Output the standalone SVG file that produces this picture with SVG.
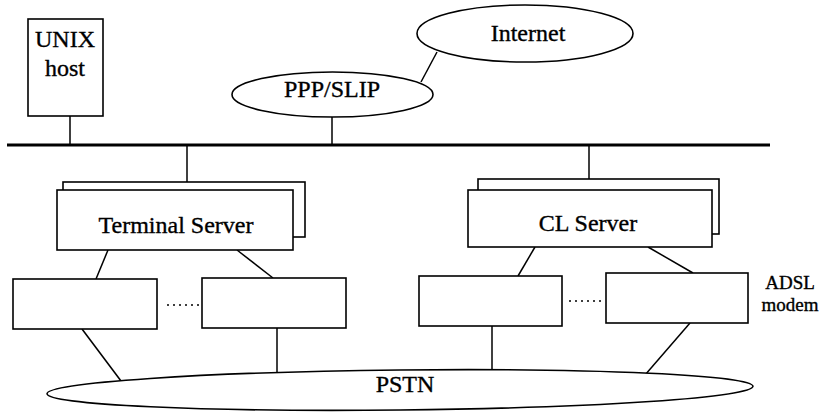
<svg xmlns="http://www.w3.org/2000/svg" width="829" height="412" viewBox="0 0 829 412">
  <style>
    .box { fill: #fff; stroke: #000; stroke-width: 1.6; }
    .cloud { fill: #fff; stroke: #000; stroke-width: 1.6; }
    .link { stroke: #000; stroke-width: 1.5; fill: none; }
    .bus { stroke: #000; stroke-width: 3; }
    .dots { stroke: #000; stroke-width: 1.5; stroke-dasharray: 2 4; }
    text { font-family: "Liberation Serif", "Times New Roman", serif; fill: #000; stroke: #000; stroke-width: 0.35; text-anchor: middle; }
    .lbl { font-size: 24px; }
    .small { font-size: 19px; }
  </style>
  <rect width="829" height="412" fill="#fff"/>

  <!-- connectors -->
  <g id="connectors">
    <line class="bus" x1="7" y1="145" x2="770" y2="145"/>
    <line class="link" x1="70" y1="116" x2="70" y2="145"/>
    <line class="link" x1="332" y1="117" x2="332" y2="145"/>
    <line class="link" x1="437" y1="52" x2="421" y2="82"/>
    <line class="link" x1="187" y1="145" x2="187" y2="182"/>
    <line class="link" x1="589" y1="145" x2="589" y2="179"/>
    <line class="link" x1="108" y1="250" x2="96" y2="279"/>
    <line class="link" x1="237" y1="250" x2="273" y2="278"/>
    <line class="link" x1="535" y1="247" x2="518" y2="276"/>
    <line class="link" x1="648" y1="247" x2="693" y2="273"/>
    <line class="link" x1="82" y1="329" x2="121" y2="381"/>
    <line class="link" x1="277" y1="328" x2="277" y2="376"/>
    <line class="link" x1="492" y1="326" x2="492" y2="371"/>
    <line class="link" x1="690" y1="323" x2="645" y2="375"/>
    <line class="dots" x1="167" y1="305" x2="199" y2="305"/>
    <line class="dots" x1="569" y1="301" x2="603" y2="301"/>
  </g>

  <g id="unix-host">
    <rect class="box" x="28" y="19" width="75" height="97"/>
    <text class="lbl" x="65" y="47">UNIX</text>
    <text class="lbl" x="65" y="76">host</text>
  </g>

  <g id="internet">
    <ellipse class="cloud" cx="525" cy="33.5" rx="108" ry="28.5"/>
    <text class="lbl" x="528" y="41">Internet</text>
  </g>

  <g id="ppp-slip">
    <ellipse class="cloud" cx="332.5" cy="94.5" rx="100.5" ry="22.5"/>
    <text class="lbl" x="332" y="97">PPP/SLIP</text>
  </g>

  <g id="terminal-server">
    <rect class="box" x="63" y="182" width="242" height="55"/>
    <rect class="box" x="57" y="190" width="236" height="60"/>
    <text class="lbl" x="176" y="233">Terminal Server</text>
  </g>

  <g id="cl-server">
    <rect class="box" x="478" y="179" width="241" height="55"/>
    <rect class="box" x="468" y="190" width="244" height="57"/>
    <text class="lbl" x="588" y="231">CL Server</text>
  </g>

  <g id="modem-1">
    <rect class="box" x="13" y="279" width="144" height="50"/>
  </g>
  <g id="modem-2">
    <rect class="box" x="202" y="278" width="144" height="50"/>
  </g>
  <g id="modem-3">
    <rect class="box" x="419" y="276" width="143" height="50"/>
  </g>
  <g id="modem-4">
    <rect class="box" x="606" y="273" width="142" height="50"/>
  </g>

  <g id="adsl-label">
    <text class="small" x="790" y="289">ADSL</text>
    <text class="small" x="790" y="311">modem</text>
  </g>

  <g id="pstn">
    <ellipse class="cloud" cx="400" cy="390" rx="353" ry="20" transform="rotate(-0.6 400 390)"/>
    <text class="lbl" x="405" y="392">PSTN</text>
  </g>
</svg>
